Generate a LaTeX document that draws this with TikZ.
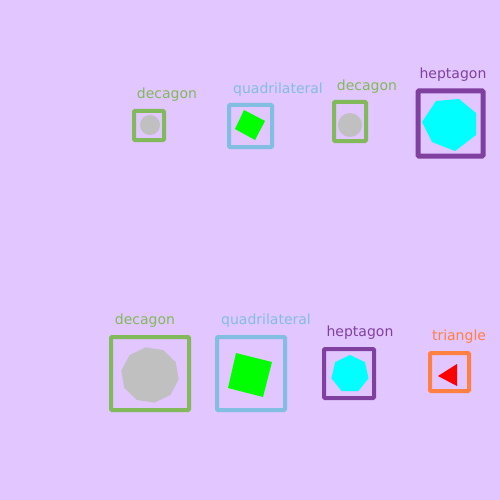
\documentclass[tikz,border=0pt]{standalone}
\usepackage{fontspec}
\setmainfont{DejaVu Sans}
\definecolor{bg}{RGB}{226,198,255}
\definecolor{gbox}{RGB}{130,185,90}
\definecolor{bbox}{RGB}{130,190,225}
\definecolor{pbox}{RGB}{128,64,160}
\definecolor{obox}{RGB}{255,128,64}
\definecolor{grayf}{RGB}{192,192,192}
\definecolor{cyanf}{RGB}{0,255,255}
\begin{document}
\begin{tikzpicture}[x=1pt,y=-1pt,
  frame/.style={draw,line width=4pt,rounded corners=1pt},
  lab/.style={font=\fontsize{14}{14}\selectfont,inner sep=0pt,anchor=center}]
\useasboundingbox[fill=bg] (0,0) rectangle (500,500);
% top row
\draw[frame,gbox] (134,111) rectangle (164,140);
\fill[grayf] (150,125) circle (10);
\node[lab,text=gbox] (l1) at (167,95) {decagon};
\draw[frame,bbox] (229,105) rectangle (272,147);
\fill[green] (244,110) -- (265,121) -- (255,140) -- (235,129) -- cycle;
\node[lab,text=bbox] (l2) at (278,90) {quadrilateral};
\draw[frame,gbox] (334,102) rectangle (366,141);
\fill[grayf] (350,125) circle (12);
\node[lab,text=gbox] (l3) at (367,87) {decagon};
\draw[frame,pbox,line width=5pt] (418,91) rectangle (483,156);
\fill[cyanf] (422,122) -- (436,101) -- (459,99) -- (476,113) -- (476,135) -- (455,151) -- (432,142) -- cycle;
\node[lab,text=pbox] (l4) at (453,75) {heptagon};
% bottom row
\draw[frame,gbox] (111,337) rectangle (189,410);
\fill[grayf] ({150+29*cos(9)},{375+28*sin(9)}) \foreach \a in {45,81,...,333} { -- ({150+29*cos(\a)},{375+28*sin(\a)}) } -- cycle;
\node[lab,text=gbox] (l5) at (145,321) {decagon};
\draw[frame,bbox] (217,337) rectangle (285,410);
\fill[green] (236,353) -- (272,362) -- (263,397) -- (228,388) -- cycle;
\node[lab,text=bbox] (l6) at (266,321) {quadrilateral};
\draw[frame,pbox] (324,349) rectangle (374,398);
\fill[cyanf] (350,355) \foreach \a in {1,...,6} { -- ({350+19*cos(\a*51.43-90)},{374+19*sin(\a*51.43-90)}) } -- cycle;
\node[lab,text=pbox] (l7) at (360,333) {heptagon};
\draw[frame,obox] (430,353) rectangle (469,391);
\fill[red] (438,376) -- (457,364) -- (457,386) -- cycle;
\node[lab,text=obox] (l8) at (459,337) {triangle};
\end{tikzpicture}
\end{document}
